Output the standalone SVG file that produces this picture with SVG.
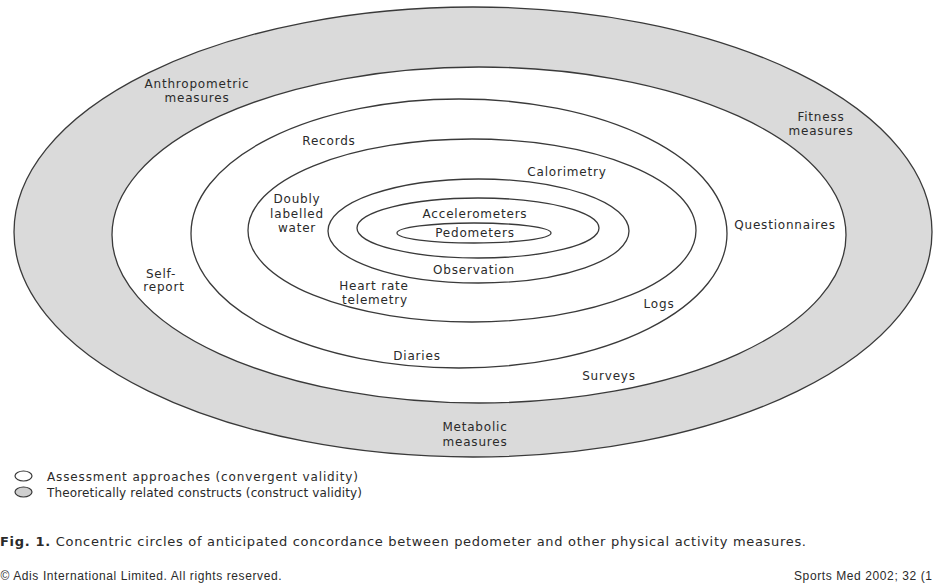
<svg xmlns="http://www.w3.org/2000/svg" width="934" height="585" viewBox="0 0 934 585">
<style>
  .ring { fill: none; stroke: #3a3a3a; stroke-width: 1.3; }
  .gray { fill: #dadada; }
  .white { fill: #ffffff; }
  .lbl { font-family: "DejaVu Sans", "Liberation Sans", sans-serif; font-size: 12px; letter-spacing: 0.8px; fill: #2a2a2a; text-anchor: middle; }
  .leg { font-family: "DejaVu Sans", "Liberation Sans", sans-serif; font-size: 12px; fill: #2a2a2a; }
  .cap { font-family: "DejaVu Sans", "Liberation Sans", sans-serif; font-size: 13px; fill: #2a2a2a; }
  .foot { font-family: "Liberation Sans", "DejaVu Sans", sans-serif; font-size: 12px; letter-spacing: 0.6px; fill: #2a2a2a; }
</style>
<rect width="934" height="585" fill="#ffffff"/>
<g id="ring-outer"><ellipse class="ring gray" cx="473" cy="232" rx="459" ry="225"/></g>
<g id="ring-2"><ellipse class="ring white" cx="479" cy="235" rx="367" ry="168"/></g>
<g id="ring-3"><ellipse class="ring" cx="459" cy="233.5" rx="268" ry="134.5"/></g>
<g id="ring-4"><ellipse class="ring" cx="472" cy="230.5" rx="224" ry="91.5"/></g>
<g id="ring-5"><ellipse class="ring" cx="478.5" cy="231" rx="150.5" ry="52"/></g>
<g id="ring-6"><ellipse class="ring" cx="478" cy="228" rx="121" ry="30"/></g>
<g id="ring-7"><ellipse class="ring" cx="474" cy="233" rx="77" ry="10"/></g>
<g id="connectors"></g>
<g id="anthropometric"><text class="lbl" x="197" y="87.5">Anthropometric</text><text class="lbl" x="197" y="101.5">measures</text></g>
<g id="fitness"><text class="lbl" x="821" y="121">Fitness</text><text class="lbl" x="821" y="135">measures</text></g>
<g id="metabolic"><text class="lbl" x="475" y="431">Metabolic</text><text class="lbl" x="475" y="445.5">measures</text></g>
<g id="records"><text class="lbl" x="329" y="145">Records</text></g>
<g id="calorimetry"><text class="lbl" x="567" y="176">Calorimetry</text></g>
<g id="doubly"><text class="lbl" x="297" y="203">Doubly</text><text class="lbl" x="297" y="218">labelled</text><text class="lbl" x="297" y="232">water</text></g>
<g id="questionnaires"><text class="lbl" x="785" y="229">Questionnaires</text></g>
<g id="accelerometers"><text class="lbl" x="475" y="218">Accelerometers</text></g>
<g id="pedometers"><text class="lbl" x="475" y="237">Pedometers</text></g>
<g id="observation"><text class="lbl" x="474" y="274">Observation</text></g>
<g id="selfreport"><text class="lbl" x="161" y="277.5">Self-</text><text class="lbl" x="164" y="291">report</text></g>
<g id="heartrate"><text class="lbl" x="374" y="290">Heart rate</text><text class="lbl" x="375" y="303.5">telemetry</text></g>
<g id="logs"><text class="lbl" x="659" y="308">Logs</text></g>
<g id="diaries"><text class="lbl" x="417" y="360">Diaries</text></g>
<g id="surveys"><text class="lbl" x="609" y="380">Surveys</text></g>
<g id="legend">
  <ellipse cx="23.5" cy="476" rx="8.5" ry="5" fill="#ffffff" stroke="#3a3a3a" stroke-width="1.2"/>
  <text class="leg" x="47" y="480.5" textLength="311" lengthAdjust="spacing">Assessment approaches (convergent validity)</text>
  <ellipse cx="23.5" cy="492" rx="8.5" ry="5" fill="#cfcfcf" stroke="#3a3a3a" stroke-width="1.2"/>
  <text class="leg" x="47" y="497" textLength="315" lengthAdjust="spacing">Theoretically related constructs (construct validity)</text>
</g>
<g id="caption">
  <text class="cap" x="0" y="546" textLength="806" lengthAdjust="spacing"><tspan font-weight="bold">Fig. 1.</tspan> Concentric circles of anticipated concordance between pedometer and other physical activity measures.</text>
</g>
<g id="footer">
  <text class="foot" x="0.5" y="580">© Adis International Limited. All rights reserved.</text>
  <text class="foot" x="794" y="580">Sports Med 2002; 32 (1</text>
</g>
</svg>
